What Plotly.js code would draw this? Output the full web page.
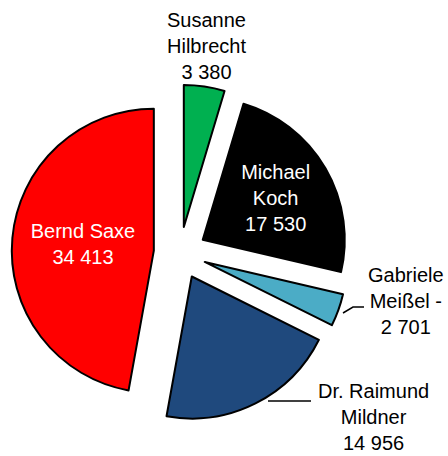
<!DOCTYPE html>
<html><head><meta charset="utf-8">
<script src="https://cdn.plot.ly/plotly-3.0.1.min.js"></script>
<style>html,body{margin:0;padding:0;background:#fff}#chart{width:448px;height:456px}</style>
</head><body><div id="chart"></div>
<script>
const candidates = ['Susanne Hilbrecht', 'Michael Koch', 'Gabriele Meißel', 'Dr. Raimund Mildner', 'Bernd Saxe'];
const votes = [3380, 17530, 2701, 14956, 34413];
const labelLines = ['Susanne<br>Hilbrecht', 'Michael<br>Koch', 'Gabriele<br>Meißel -', 'Dr. Raimund<br>Mildner', 'Bernd Saxe'];
const sliceColors = ['#00B050', '#000000', '#4BACC6', '#1F497D', '#FF0000'];
const textPlacement = ['none', 'inside', 'none', 'none', 'inside'];

const W = 448, H = 456;
const px = x => x / W, py = y => 1 - y / H;
const fmt = v => v.toString().replace(/\B(?=(\d{3})+(?!\d))/g, ' ');
const font = {family: 'Liberation Sans, Arial, sans-serif', size: 20, color: '#000'};

const outsidePos = {0: [206, 46], 2: [406, 301], 3: [373, 417]};
const annotations = Object.keys(outsidePos).map(k => ({
  xref: 'paper', yref: 'paper', x: px(outsidePos[k][0]), y: py(outsidePos[k][1]),
  xanchor: 'center', yanchor: 'middle', showarrow: false, font: font,
  text: labelLines[k] + '<br>' + fmt(votes[k])
}));

const trace = {
  type: 'pie', labels: candidates, values: votes, text: labelLines,
  sort: false, direction: 'clockwise', rotation: 0,
  pull: 0.185,
  marker: {colors: sliceColors, line: {color: '#000', width: 2}},
  textposition: textPlacement, insidetextorientation: 'horizontal',
  texttemplate: '%{text}<br>%{value:,}',
  insidetextfont: {family: font.family, size: 20, color: '#fff'},
  hoverinfo: 'skip',
  domain: {x: [px(180 - 168.3), px(180 + 168.3)], y: [py(253 + 168.3), py(253 - 168.3)]}
};

const layout = {
  width: W, height: H, margin: {l: 0, r: 0, t: 0, b: 0},
  paper_bgcolor: '#fff', showlegend: false, separators: ', ',
  annotations: annotations,
  shapes: [
    {type: 'path', xref: 'paper', yref: 'paper', line: {color: '#000', width: 1.5},
     path: `M${px(343)},${py(313)} L${px(353)},${py(307)} L${px(364)},${py(307)}`},
    {type: 'line', xref: 'paper', yref: 'paper', line: {color: '#000', width: 1.5},
     x0: px(268), y0: py(401), x1: px(311), y1: py(401)}
  ]
};
Plotly.newPlot('chart', [trace], layout, {staticPlot: true});
</script></body></html>
